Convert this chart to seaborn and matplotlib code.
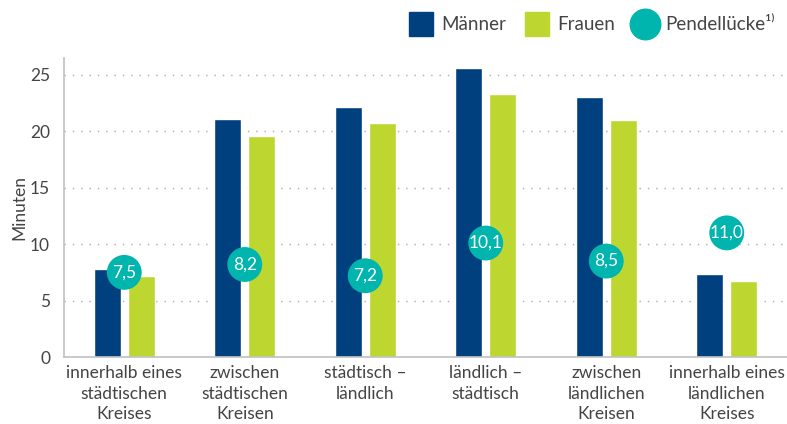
import numpy as np
import pandas as pd
import matplotlib.pyplot as plt
import seaborn as sns
from matplotlib.lines import Line2D

# data
kategorien = ["innerhalb eines\nstädtischen\nKreises", "zwischen\nstädtischen\nKreisen",
              "städtisch –\nländlich", "ländlich –\nstädtisch",
              "zwischen\nländlichen\nKreisen", "innerhalb eines\nländlichen\nKreises"]
maenner = [7.8, 21.1, 22.2, 25.6, 23.0, 7.4]
frauen = [7.2, 19.6, 20.7, 23.3, 21.0, 6.7]
pendelluecke = [7.5, 8.2, 7.2, 10.1, 8.5, 11.0]
luecke_text = ["7,5", "8,2", "7,2", "10,1", "8,5", "11,0"]

farben = {"Männer": "#00407f", "Frauen": "#bdd630"}
teal = "#00b5ad"

df = pd.DataFrame({
    "Kategorie": kategorien * 2,
    "Minuten": maenner + frauen,
    "Geschlecht": ["Männer"] * len(kategorien) + ["Frauen"] * len(kategorien),
})
df_luecke = pd.DataFrame({"Kategorie": kategorien, "Wert": pendelluecke})

sns.set_style("white")
plt.rcParams['font.family'] = ['Lato', 'DejaVu Sans']
plt.rcParams['text.color'] = '#444444'

fig = plt.figure(figsize=(7.87, 4.24), dpi=100)
ax = fig.add_axes([64 / 787, 67 / 424, 1 - 64 / 787, (357 - 58) / 424])

sns.barplot(data=df, x="Kategorie", y="Minuten", hue="Geschlecht", palette=farben,
            width=0.56, gap=0.2, ax=ax, legend=False, saturation=1)

sns.scatterplot(data=df_luecke, x="Kategorie", y="Wert", color=teal, s=630,
                edgecolor="none", ax=ax, zorder=5, legend=False)
for i, (v, t) in enumerate(zip(pendelluecke, luecke_text)):
    ax.text(i, v, t, ha="center", va="center", color="white", fontsize=12.5, zorder=6)

ax.set_xlim(-0.5, 5.5)
ax.set_ylim(0, 26.5)
ax.set_yticks([0, 5, 10, 15, 20, 25])
for y in [5, 10, 15, 20, 25]:
    ax.axhline(y, color="#aaaaaa", lw=1, ls=(0, (1, 5)), zorder=0)

ax.set_xlabel("")
ax.set_ylabel("Minuten", fontsize=12.5, color="#444444", labelpad=2)
ax.tick_params(axis="both", length=0, labelsize=12.5, labelcolor="#444444")
ax.tick_params(axis="y", pad=10)
ax.tick_params(axis="x", pad=6)
for lbl in ax.get_xticklabels():
    lbl.set_linespacing(1.35)

for s in ["top", "right"]:
    ax.spines[s].set_visible(False)
for s in ["left", "bottom"]:
    ax.spines[s].set_color("#c0c0c0")
    ax.spines[s].set_linewidth(1.2)

handles = [
    Line2D([], [], marker="s", ls="", color=farben["Männer"], markersize=17),
    Line2D([], [], marker="s", ls="", color=farben["Frauen"], markersize=17),
    Line2D([], [], marker="o", ls="", color=teal, markersize=22),
]
fig.legend(handles, ["Männer", "Frauen", "Pendellücke¹⁾"], loc="center right",
           bbox_to_anchor=(0.985, 1 - 25 / 424), ncol=3, frameon=False, fontsize=13.5,
           handletextpad=0.5, columnspacing=1.0, handlelength=1.2,
           borderpad=0, borderaxespad=0)

fig.savefig("out.png", dpi=100)
